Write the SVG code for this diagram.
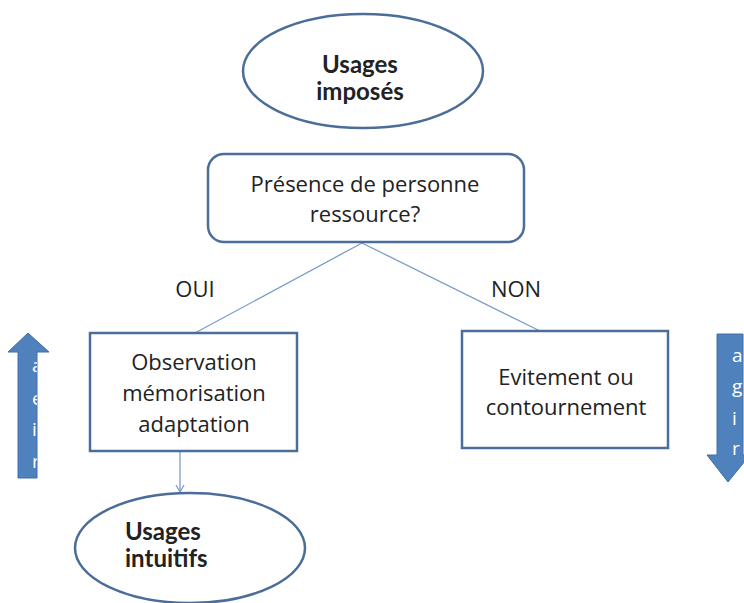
<svg xmlns="http://www.w3.org/2000/svg" width="744" height="603" viewBox="0 0 744 603">
<style>
.shape{fill:#fff;stroke:#4a6d99;stroke-width:2.5}
.t{font-family:"Open Sans","Liberation Sans",sans-serif;font-size:22px;fill:#222;text-anchor:middle}
.b{font-family:Lato,"Liberation Sans",sans-serif;font-size:24px;font-weight:bold;fill:#222}
.c{stroke:#7a9ccb;stroke-width:1.3;fill:none}
.arrow{fill:#4f81bd;stroke:#3f6ea8;stroke-width:1}
.al{font-family:"Open Sans","Liberation Sans",sans-serif;font-size:19px;fill:#fff}
</style>
<defs>
<marker id="open" markerWidth="10" markerHeight="10" refX="8" refY="5" orient="auto" markerUnits="userSpaceOnUse">
<path d="M1,1 L8,5 L1,9" fill="none" stroke="#7a9ccb" stroke-width="1.3"/>
</marker>
<clipPath id="clipL"><rect x="0" y="320" width="37" height="170"/></clipPath>
</defs>
<g id="connectors">
<line class="c" x1="362" y1="243" x2="195" y2="333"/>
<line class="c" x1="362" y1="243" x2="540" y2="331"/>
<line class="c" x1="180" y1="452" x2="180" y2="492" marker-end="url(#open)"/>
</g>
<g id="usages-imposes">
<ellipse class="shape" cx="363" cy="71" rx="120" ry="57"/>
<text class="b" x="360" y="73" text-anchor="middle">Usages</text>
<text class="b" x="360" y="100" text-anchor="middle">imposés</text>
</g>
<g id="presence">
<rect class="shape" x="208" y="154" width="316" height="88" rx="16"/>
<text class="t" x="365" y="192">Présence de personne</text>
<text class="t" x="365" y="222">ressource?</text>
</g>
<g id="label-oui"><text class="t" x="195" y="297">OUI</text></g>
<g id="label-non"><text class="t" x="516" y="297">NON</text></g>
<g id="observation">
<rect class="shape" x="90" y="333" width="207" height="118"/>
<text class="t" x="194" y="370">Observation</text>
<text class="t" x="194" y="401">mémorisation</text>
<text class="t" x="194" y="432">adaptation</text>
</g>
<g id="evitement">
<rect class="shape" x="462" y="331" width="206" height="117"/>
<text class="t" x="566" y="385">Evitement ou</text>
<text class="t" x="566" y="415">contournement</text>
</g>
<g id="usages-intuitifs">
<ellipse class="shape" cx="190" cy="548" rx="115" ry="55"/>
<text class="b" x="125" y="540">Usages</text>
<text class="b" x="125" y="567">intuitifs</text>
</g>
<g id="arrow-up">
<path class="arrow" d="M28,333 L49,352 L37,352 L37,478 L18,478 L18,352 L8,352 Z"/>
<g clip-path="url(#clipL)">
<text class="al" x="32" y="372">a</text>
<text class="al" x="32" y="405">e</text>
<text class="al" x="32" y="436">i</text>
<text class="al" x="32" y="468">r</text>
</g>
</g>
<g id="arrow-down">
<path class="arrow" d="M717,334 L743,334 L743,455 L750,455 L728,482 L707,455 L717,455 Z"/>
<text class="al" x="732" y="362">a</text>
<text class="al" x="732" y="393">g</text>
<text class="al" x="732" y="425">i</text>
<text class="al" x="732" y="455">r</text>
</g>
</svg>
